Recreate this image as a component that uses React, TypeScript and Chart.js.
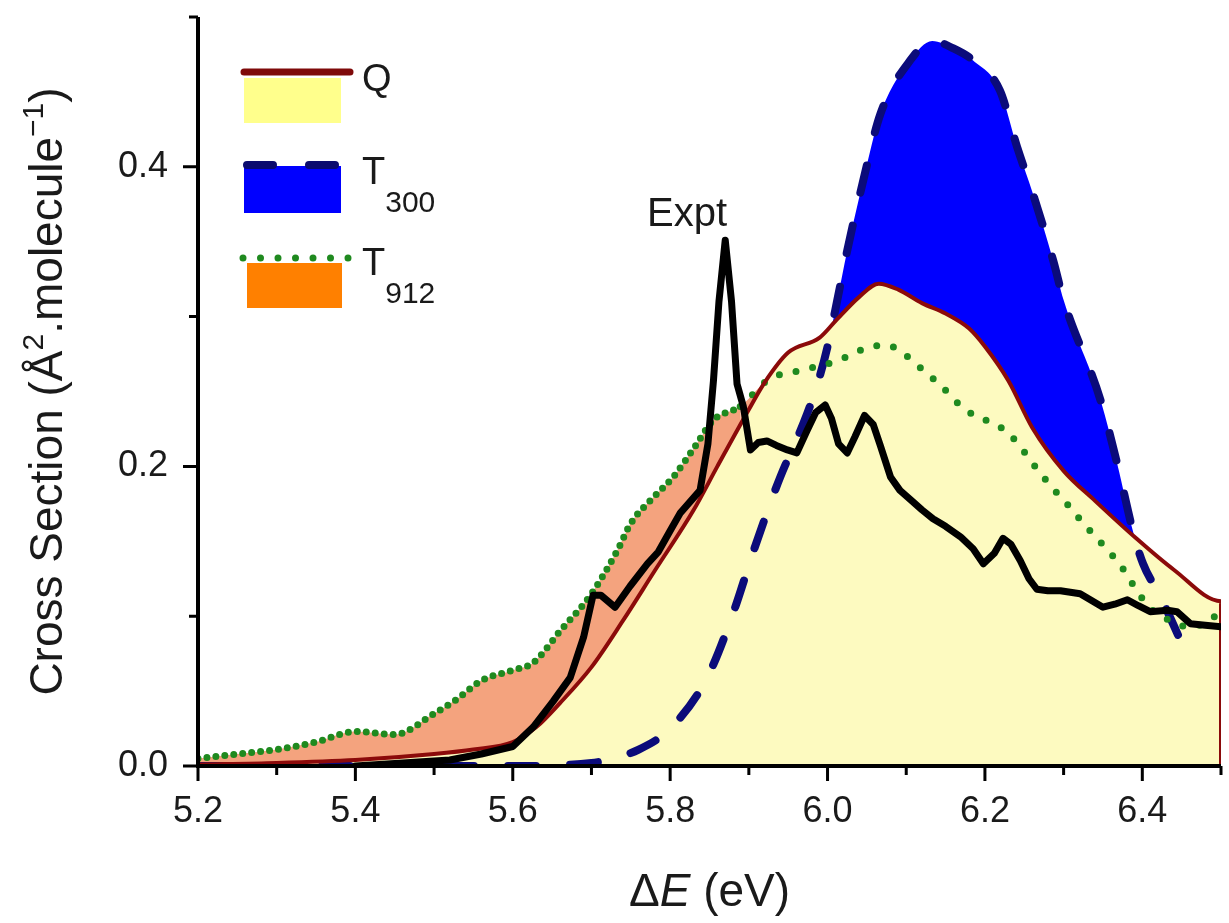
import React, { useEffect, useRef } from 'react';
import { Chart, registerables } from 'chart.js';

Chart.register(...registerables);

const FONT = '"Liberation Sans", Arial, Helvetica, sans-serif';

// ---- axis ticks ----
const xTickValues = [5.2, 5.4, 5.6, 5.8, 6.0, 6.2, 6.4];
const xMinorTicks = [5.3, 5.5, 5.7, 5.9, 6.1, 6.3, 6.5];
const yTickValues = [0.0, 0.2, 0.4];
const yMinorTicks = [0.1, 0.3, 0.5];

// ---- Q (quantum) ----
const qEnergy = [5.2, 5.3, 5.4, 5.5, 5.55, 5.6, 5.63, 5.66, 5.7, 5.74, 5.78, 5.83, 5.86, 5.9, 5.92, 5.95, 5.99, 6.01, 6.04, 6.065, 6.09, 6.12, 6.15, 6.18, 6.2, 6.23, 6.26, 6.3, 6.34, 6.39, 6.44, 6.5, 6.5];
const qCross = [0.001, 0.002, 0.004, 0.008, 0.011, 0.016, 0.026, 0.042, 0.066, 0.097, 0.13, 0.171, 0.2, 0.238, 0.256, 0.276, 0.286, 0.297, 0.313, 0.322, 0.318, 0.309, 0.302, 0.292, 0.28, 0.257, 0.226, 0.197, 0.177, 0.153, 0.131, 0.11, 0.0];

// ---- T300 ----
const t300Energy = [5.2, 5.4, 5.6, 5.7, 5.76, 5.8, 5.847, 5.88, 5.905, 5.927, 5.94, 5.974, 5.99, 6.0, 6.012, 6.025, 6.045, 6.067, 6.105, 6.133, 6.16, 6.185, 6.219, 6.241, 6.261, 6.287, 6.3, 6.347, 6.368, 6.389, 6.401, 6.423, 6.462];
const t300Cross = [0.0, 0.0, 0.0, 0.002, 0.011, 0.025, 0.059, 0.102, 0.142, 0.175, 0.193, 0.235, 0.26, 0.28, 0.31, 0.344, 0.39, 0.435, 0.471, 0.484, 0.479, 0.471, 0.451, 0.413, 0.382, 0.337, 0.311, 0.244, 0.202, 0.155, 0.135, 0.113, 0.068];

// ---- T912 ----
const t912Energy = [5.2, 5.25, 5.3, 5.35, 5.4, 5.45, 5.5, 5.53, 5.56, 5.6, 5.626, 5.66, 5.7, 5.733, 5.75, 5.78, 5.804, 5.83, 5.855, 5.889, 5.925, 5.965, 6.01, 6.05, 6.075, 6.1, 6.122, 6.146, 6.166, 6.19, 6.211, 6.232, 6.251, 6.268, 6.287, 6.306, 6.325, 6.344, 6.363, 6.379, 6.393, 6.413, 6.436, 6.457, 6.478, 6.5];
const t912Cross = [0.005, 0.008, 0.011, 0.016, 0.023, 0.021, 0.035, 0.045, 0.057, 0.064, 0.069, 0.09, 0.115, 0.144, 0.162, 0.18, 0.193, 0.212, 0.231, 0.24, 0.258, 0.264, 0.27, 0.279, 0.281, 0.274, 0.264, 0.253, 0.242, 0.233, 0.229, 0.221, 0.209, 0.197, 0.185, 0.174, 0.162, 0.151, 0.14, 0.129, 0.117, 0.104, 0.097, 0.093, 0.095, 0.103];

// ---- Experiment ----
const exptEnergy = [5.4, 5.46, 5.52, 5.56, 5.6, 5.626, 5.651, 5.673, 5.69, 5.702, 5.712, 5.73, 5.749, 5.771, 5.785, 5.8, 5.813, 5.838, 5.848, 5.855, 5.862, 5.87, 5.878, 5.885, 5.893, 5.902, 5.912, 5.923, 5.935, 5.949, 5.961, 5.974, 5.985, 5.997, 6.005, 6.014, 6.025, 6.035, 6.047, 6.058, 6.067, 6.08, 6.092, 6.105, 6.12, 6.134, 6.15, 6.169, 6.185, 6.198, 6.212, 6.223, 6.233, 6.245, 6.256, 6.266, 6.28, 6.296, 6.321, 6.35, 6.365, 6.381, 6.395, 6.41, 6.432, 6.444, 6.461, 6.48, 6.5];
const exptCross = [0.0, 0.002, 0.004, 0.008, 0.013, 0.026, 0.043, 0.059, 0.086, 0.114, 0.114, 0.106, 0.12, 0.135, 0.143, 0.157, 0.169, 0.184, 0.215, 0.257, 0.31, 0.351, 0.31, 0.255, 0.24, 0.211, 0.216, 0.217, 0.214, 0.211, 0.209, 0.224, 0.236, 0.241, 0.232, 0.215, 0.209, 0.22, 0.234, 0.228, 0.214, 0.193, 0.184, 0.178, 0.171, 0.165, 0.16, 0.153, 0.145, 0.135, 0.142, 0.152, 0.148, 0.137, 0.125, 0.118, 0.117, 0.117, 0.115, 0.106, 0.108, 0.111, 0.107, 0.103, 0.104, 0.103, 0.095, 0.094, 0.093];

const zip = (xs: number[], ys: number[]) => xs.map((x, i) => ({ x, y: ys[i] }));

type Part = { t: string; size: number; dy: number; italic?: boolean };

function drawParts(ctx: CanvasRenderingContext2D, parts: Part[], cx: number, baseY: number, align: 'center' | 'left') {
  const widths = parts.map((p) => {
    ctx.font = `${p.italic ? 'italic ' : ''}${p.size}px ${FONT}`;
    return ctx.measureText(p.t).width;
  });
  const total = widths.reduce((a, b) => a + b, 0);
  let x = align === 'center' ? cx - total / 2 : cx;
  parts.forEach((p, i) => {
    ctx.font = `${p.italic ? 'italic ' : ''}${p.size}px ${FONT}`;
    ctx.fillText(p.t, x, baseY + p.dy);
    x += widths[i];
  });
}

const decorPlugin = {
  id: 'decor',
  afterDatasetsDraw(chart: any) {
    const { ctx, chartArea: ca, scales } = chart;
    const xs = scales.x;
    const ys = scales.y;
    ctx.save();
    ctx.strokeStyle = '#000';
    ctx.lineCap = 'butt';
    // axis lines
    ctx.lineWidth = 4;
    ctx.beginPath();
    ctx.moveTo(ca.left, ca.top);
    ctx.lineTo(ca.left, ca.bottom + 2);
    ctx.moveTo(ca.left - 2, ca.bottom);
    ctx.lineTo(ca.right, ca.bottom);
    ctx.stroke();
    // ticks
    ctx.lineWidth = 3;
    ctx.beginPath();
    xTickValues.forEach((v) => {
      const px = xs.getPixelForValue(v);
      ctx.moveTo(px, ca.bottom);
      ctx.lineTo(px, ca.bottom + 15);
    });
    xMinorTicks.forEach((v) => {
      const px = xs.getPixelForValue(v);
      ctx.moveTo(px, ca.bottom);
      ctx.lineTo(px, ca.bottom + 9);
    });
    yTickValues.forEach((v) => {
      const py = ys.getPixelForValue(v);
      ctx.moveTo(ca.left, py);
      ctx.lineTo(ca.left - 15, py);
    });
    yMinorTicks.forEach((v) => {
      const py = ys.getPixelForValue(v);
      ctx.moveTo(ca.left, py);
      ctx.lineTo(ca.left - 9, py);
    });
    ctx.stroke();
    ctx.restore();
  },
  afterDraw(chart: any) {
    const { ctx, chartArea: ca } = chart;
    ctx.save();
    ctx.fillStyle = '#1a1a1a';
    ctx.textBaseline = 'alphabetic';
    ctx.textAlign = 'left';

    // X title
    drawParts(
      ctx,
      [
        { t: 'Δ', size: 46, dy: 0 },
        { t: 'E', size: 46, dy: 0, italic: true },
        { t: ' (eV)', size: 46, dy: 0 },
      ],
      (ca.left + ca.right) / 2,
      906,
      'center'
    );

    // Y title
    ctx.save();
    ctx.translate(62, (ca.top + ca.bottom) / 2);
    ctx.rotate(-Math.PI / 2);
    drawParts(
      ctx,
      [
        { t: 'Cross Section (Å', size: 46, dy: 0 },
        { t: '2', size: 30, dy: -19 },
        { t: '.molecule', size: 46, dy: 0 },
        { t: '−1', size: 30, dy: -19 },
        { t: ')', size: 46, dy: 0 },
      ],
      0,
      0,
      'center'
    );
    ctx.restore();

    // Expt label
    ctx.font = `40px ${FONT}`;
    ctx.textAlign = 'center';
    ctx.fillText('Expt', 687, 226);
    ctx.textAlign = 'left';

    // Legend: Q
    ctx.fillStyle = '#ffff8c';
    ctx.fillRect(244, 78, 97, 45);
    ctx.strokeStyle = '#7f0a0a';
    ctx.lineWidth = 7;
    ctx.lineCap = 'round';
    ctx.beginPath();
    ctx.moveTo(244, 72);
    ctx.lineTo(350, 72);
    ctx.stroke();

    // Legend: T300
    ctx.fillStyle = '#0000ff';
    ctx.fillRect(244, 166, 97, 47);
    ctx.strokeStyle = '#0b0b6e';
    ctx.lineWidth = 8;
    ctx.lineCap = 'round';
    ctx.setLineDash([26, 36]);
    ctx.beginPath();
    ctx.moveTo(247, 165);
    ctx.lineTo(340, 165);
    ctx.stroke();
    ctx.setLineDash([]);

    // Legend: T912
    ctx.fillStyle = '#ff8000';
    ctx.fillRect(247, 263, 95, 45);
    ctx.strokeStyle = '#1f8a1f';
    ctx.lineWidth = 7;
    ctx.lineCap = 'round';
    ctx.setLineDash([0, 17.5]);
    ctx.beginPath();
    ctx.moveTo(243, 258);
    ctx.lineTo(350, 258);
    ctx.stroke();
    ctx.setLineDash([]);

    // Legend texts
    ctx.fillStyle = '#1a1a1a';
    drawParts(ctx, [{ t: 'Q', size: 38, dy: 0 }], 362, 91, 'left');
    drawParts(ctx, [{ t: 'T', size: 38, dy: 0 }, { t: '300', size: 30, dy: 28 }], 362, 184, 'left');
    drawParts(ctx, [{ t: 'T', size: 38, dy: 0 }, { t: '912', size: 30, dy: 28 }], 362, 275, 'left');

    ctx.restore();
  },
};

export default function App() {
  const canvasRef = useRef<HTMLCanvasElement | null>(null);

  useEffect(() => {
    const canvas = canvasRef.current;
    if (!canvas) return;
    const tickFont = { family: FONT, size: 36 };
    const chart = new Chart(canvas, {
      type: 'line',
      data: {
        datasets: [
          {
            label: 'Expt',
            data: zip(exptEnergy, exptCross),
            borderColor: '#000000',
            borderWidth: 7,
            borderJoinStyle: 'round',
            borderCapStyle: 'round',
            pointRadius: 0,
            fill: false,
            tension: 0,
          },
          {
            label: 'Q',
            data: zip(qEnergy, qCross),
            borderColor: '#8b0a0a',
            borderWidth: 4,
            pointRadius: 0,
            fill: 'origin',
            backgroundColor: '#fdfac0',
            cubicInterpolationMode: 'monotone',
          },
          {
            label: 'T912',
            data: zip(t912Energy, t912Cross),
            borderColor: '#1f8a1f',
            borderWidth: 7,
            borderCapStyle: 'round',
            borderDash: [0, 17],
            segment: {
              borderDash: (c: any) => (c.p0.parsed.x < 5.88 ? [0, 9] : [0, 17]),
            },
            pointRadius: 0,
            fill: 'origin',
            backgroundColor: '#f4a37e',
            cubicInterpolationMode: 'monotone',
          },
          {
            label: 'T300',
            data: zip(t300Energy, t300Cross),
            borderColor: '#0b0b7a',
            borderWidth: 8,
            borderCapStyle: 'round',
            borderDash: [28, 34],
            pointRadius: 0,
            fill: 'origin',
            backgroundColor: '#0000ff',
            cubicInterpolationMode: 'monotone',
          },
        ] as any,
      },
      options: {
        animation: false,
        responsive: false,
        maintainAspectRatio: false,
        devicePixelRatio: 1,
        layout: { padding: { left: 78, top: 17, right: 8, bottom: 57 } },
        plugins: {
          legend: { display: false },
          tooltip: { enabled: false },
          filler: { drawTime: 'beforeDatasetsDraw' } as any,
        },
        scales: {
          x: {
            type: 'linear',
            min: 5.2,
            max: 6.5,
            afterBuildTicks: (s: any) => {
              s.ticks = xTickValues.map((v) => ({ value: v }));
            },
            afterFit: (s: any) => {
              s.height = 100;
              s.paddingLeft = 0;
              s.paddingRight = 0;
            },
            grid: { display: false, drawTicks: false },
            border: { display: false },
            ticks: {
              font: tickFont,
              color: '#1a1a1a',
              padding: 24,
              maxRotation: 0,
              autoSkip: false,
              callback: (v: any) => Number(v).toFixed(1),
            },
          },
          y: {
            type: 'linear',
            min: 0,
            max: 0.5,
            afterBuildTicks: (s: any) => {
              s.ticks = yTickValues.map((v) => ({ value: v }));
            },
            afterFit: (s: any) => {
              s.width = 120;
              s.paddingTop = 0;
              s.paddingBottom = 0;
            },
            grid: { display: false, drawTicks: false },
            border: { display: false },
            ticks: {
              font: tickFont,
              color: '#1a1a1a',
              padding: 30,
              autoSkip: false,
              callback: (v: any) => Number(v).toFixed(1),
            },
          },
        },
      } as any,
      plugins: [decorPlugin],
    });
    return () => chart.destroy();
  }, []);

  return (
    <div style={{ position: 'absolute', left: 0, top: 0, width: 1229, height: 923, background: '#ffffff' }}>
      <canvas ref={canvasRef} width={1229} height={923} style={{ display: 'block', width: 1229, height: 923 }} />
    </div>
  );
}
